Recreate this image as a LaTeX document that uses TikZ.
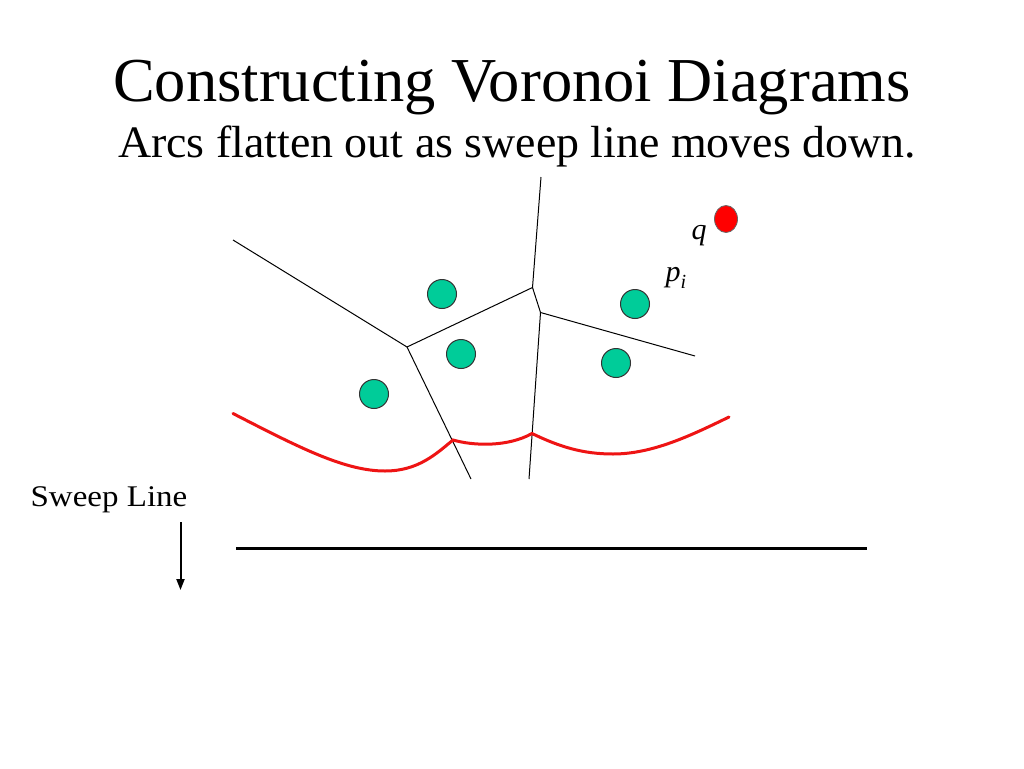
\documentclass[tikz,border=0pt]{standalone}
\usepackage{fontspec}
\setmainfont{Liberation Serif}
\usetikzlibrary{arrows.meta,shapes.geometric}
\definecolor{sitegreen}{RGB}{0,204,153}
\definecolor{arcred}{RGB}{238,20,20}
\begin{document}
\begin{tikzpicture}[x=1pt,y=-1pt,
  site/.style={circle,draw=black!80,line width=1pt,fill=sitegreen,minimum size=29pt,inner sep=0pt},
  qsite/.style={ellipse,draw=black!60,line width=0.8pt,fill=red,minimum width=23pt,minimum height=27pt,inner sep=0pt},
  edge/.style={draw=black,line width=1pt},
  beach/.style={draw=arcred,line width=3pt,line cap=round},
  lbl/.style={inner sep=0pt,anchor=base}]
\useasboundingbox (0,0) rectangle (1024,768);
\fill[white] (0,0) rectangle (1024,768);
% titles
\node[lbl,font=\fontsize{62.5}{64}\selectfont] (title) at (512,101) {Constructing Voronoi Diagrams};
\node[lbl,font=\fontsize{45}{48}\selectfont,xscale=1.02] (sub) at (517,157.5) {Arcs flatten out as sweep line moves down.};
% Voronoi vertices
\coordinate (top) at (541,177);
\coordinate (A) at (532.5,287.5);
\coordinate (B) at (540.5,312.5);
\coordinate (C) at (407,347);
\coordinate (L) at (233,240);
\coordinate (R) at (695,356);
\coordinate (Cb) at (471,479);
\coordinate (Bb) at (529,479);
\draw[edge] (top) -- (A) -- (B) -- (Bb);
\draw[edge] (L) -- (C) -- (Cb);
\draw[edge] (C) -- (A);
\draw[edge] (B) -- (R);
% sites
\node[site] (s1) at (442,294) {};
\node[site] (s2) at (461,354) {};
\node[site] (s3) at (374,394) {};
\node[site] (s4) at (635,304) {};
\node[site] (s5) at (616,363) {};
\node[qsite] (q) at (726,219) {};
\node[lbl,font=\fontsize{30}{32}\selectfont\itshape] (qlbl) at (699,239) {q};
\node[lbl,font=\fontsize{30}{32}\selectfont] (plbl) at (676,281) {\textit{p}\raisebox{-0.25em}{\fontsize{20}{22}\selectfont\textit{i}}};
% beach line
\draw[beach] (233,413.5) .. controls (300,448) and (345,471) .. (385,471)
  .. controls (418,471) and (436,454) .. (453,440)
  .. controls (474,446) and (508,447) .. (532,433.5)
  .. controls (560,447) and (583,454) .. (613,454)
  .. controls (652,454) and (690,436) .. (729,417);
% sweep line
\coordinate (sw1) at (236,548);
\coordinate (sw2) at (867,548);
\draw[black,line width=3pt] (sw1) -- (sw2);
\node[lbl,font=\fontsize{30}{32}\selectfont,xscale=1.1] (swl) at (109,506.5) {Sweep Line};
\coordinate (ar1) at (180.5,522);
\coordinate (ar2) at (180.5,590);
\draw[black,line width=2pt,-{Triangle[length=11pt,width=8pt]}] (ar1) -- (ar2);
\end{tikzpicture}
\end{document}
